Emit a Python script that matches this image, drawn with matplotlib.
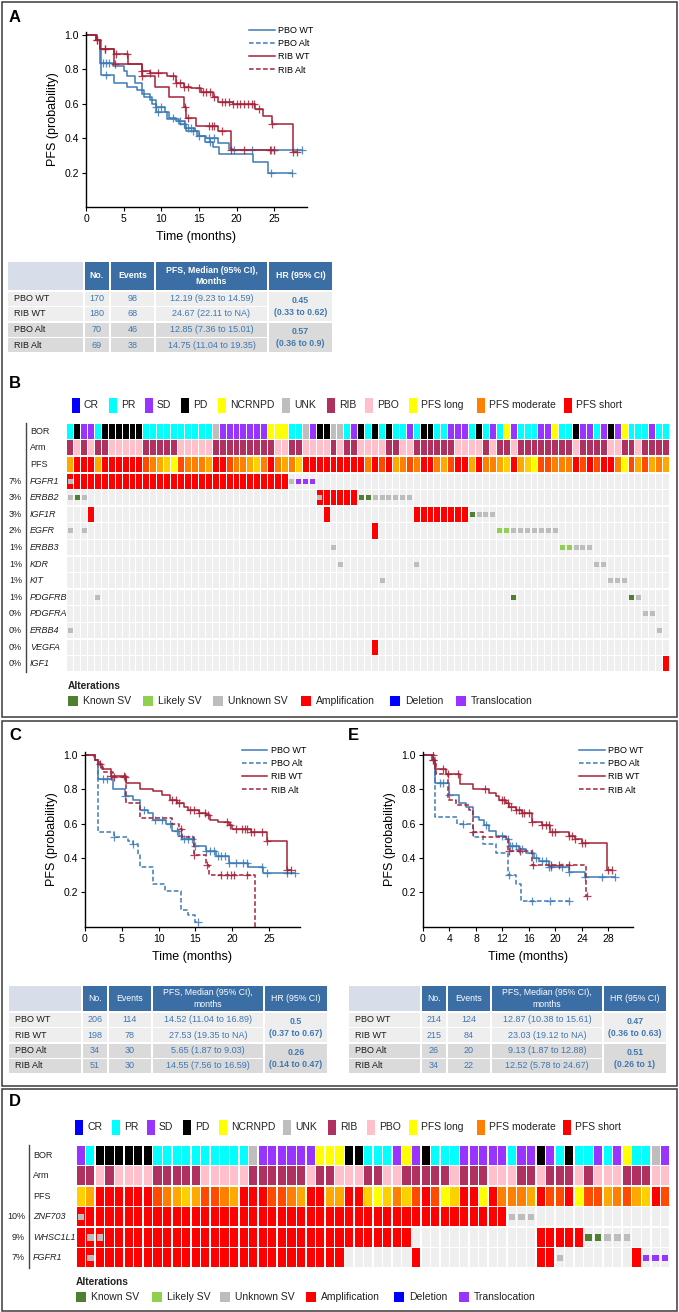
import numpy as np
import matplotlib.pyplot as plt
from matplotlib.patches import Rectangle
from matplotlib.lines import Line2D

plt.rcParams['font.family'] = ['Liberation Sans', 'DejaVu Sans']

W, H = 679, 1312
BLUE = '#3d7ab6'
RED = '#a52238'
VAL_BLUE = '#3f77b0'

# ---------------- Kaplan-Meier curves (step times, survival, censor times)
a_pbo_wt_t = [0, 1.5, 1.9, 3.6, 5.0, 5.5, 6.5, 7.5, 8.5, 9.3, 10.5, 11.0, 12.0, 13.2, 14.5, 15.0, 16.0, 17.5, 19.0, 19.5, 28.7]
a_pbo_wt_s = [1.0, 0.97, 0.84, 0.82, 0.79, 0.76, 0.72, 0.66, 0.62, 0.58, 0.55, 0.52, 0.50, 0.46, 0.44, 0.41, 0.40, 0.37, 0.34, 0.33, 0.33]
a_pbo_wt_c = [2.2, 2.6, 3.0, 9.3, 10.0, 11.5, 12.5, 13.5, 14.0, 15.0, 16.3, 17.0, 19.7, 22.1, 24.6, 25.0, 28.7]
a_pbo_alt_t = [0, 1.5, 2.0, 3.7, 5.5, 6.8, 7.7, 8.7, 9.3, 10.8, 12.3, 13.3, 14.7, 15.8, 16.8, 17.6, 22.2, 24.2, 27.3]
a_pbo_alt_s = [1.0, 0.97, 0.77, 0.72, 0.70, 0.68, 0.64, 0.60, 0.55, 0.51, 0.48, 0.44, 0.41, 0.38, 0.35, 0.31, 0.26, 0.20, 0.20]
a_pbo_alt_c = [2.6, 9.5, 13.0, 14.2, 16.5, 24.6, 27.3]
a_rib_wt_t = [0, 1.3, 1.9, 3.7, 5.6, 7.4, 8.5, 10.8, 12.0, 13.0, 14.0, 15.3, 16.8, 17.5, 19.5, 22.4, 23.5, 24.7, 27.5, 28.0]
a_rib_wt_s = [1.0, 0.97, 0.92, 0.89, 0.83, 0.79, 0.78, 0.76, 0.72, 0.70, 0.69, 0.67, 0.64, 0.61, 0.60, 0.57, 0.53, 0.48, 0.32, 0.32]
a_rib_wt_c = [1.5, 2.5, 4.0, 5.5, 7.5, 8.5, 9.5, 11.5, 12.0, 12.5, 13.0, 13.5, 15.0, 15.5, 16.0, 16.5, 17.0,
              18.0, 18.5, 19.0, 19.5, 20.0, 20.5, 21.0, 21.5, 22.0, 22.3, 23.0, 24.7, 27.5, 28.0]
a_rib_alt_t = [0, 1.3, 1.9, 3.7, 7.5, 9.2, 11.0, 13.0, 13.3, 14.6, 17.5, 19.3, 25.0]
a_rib_alt_s = [1.0, 0.97, 0.92, 0.83, 0.76, 0.70, 0.64, 0.58, 0.52, 0.47, 0.44, 0.33, 0.33]
a_rib_alt_c = [1.5, 2.5, 3.8, 7.5, 13.2, 13.5, 16.3, 16.7, 17.0, 18.0, 19.3, 21.0, 24.5, 25.0]

c_pbo_wt_t = [0, 1.3, 1.8, 3.8, 5.5, 6.5, 7.5, 8.5, 9.2, 11.0, 11.8, 12.8, 13.2, 14.8, 16.5, 17.8, 19.5, 22.1, 24.2, 28.5]
c_pbo_wt_s = [1.0, 0.97, 0.86, 0.80, 0.76, 0.74, 0.68, 0.66, 0.62, 0.60, 0.56, 0.53, 0.51, 0.47, 0.44, 0.41, 0.37, 0.35, 0.31, 0.31]
c_pbo_wt_c = [2.5, 3.0, 5.5, 8.0, 9.5, 10.5, 11.5, 12.5, 13.0, 13.5, 14.0, 14.5, 15.0, 16.5, 17.0, 17.5, 18.0,
              18.5, 19.0, 19.5, 20.5, 21.5, 22.0, 24.0, 24.7, 27.5, 28.5]
c_pbo_alt_t = [0, 1.2, 1.8, 4.0, 5.8, 6.5, 7.2, 7.5, 9.3, 10.8, 13.0, 14.0, 15.0, 15.3]
c_pbo_alt_s = [1.0, 0.97, 0.55, 0.52, 0.50, 0.48, 0.42, 0.35, 0.25, 0.21, 0.10, 0.07, 0.03, 0.03]
c_pbo_alt_c = [4.0, 6.5, 15.3]
c_rib_wt_t = [0, 1.3, 1.8, 2.3, 3.5, 5.6, 7.5, 9.2, 10.5, 11.5, 12.5, 13.5, 14.0, 15.5, 16.5, 17.0, 18.0, 19.5, 20.0, 22.5, 24.7, 27.5, 28.0]
c_rib_wt_s = [1.0, 0.97, 0.95, 0.92, 0.88, 0.835, 0.80, 0.79, 0.77, 0.74, 0.72, 0.70, 0.68, 0.66, 0.65, 0.62, 0.61, 0.59, 0.57, 0.55, 0.50, 0.33, 0.33]
c_rib_wt_c = [2.0, 3.5, 5.3, 11.8, 12.3, 12.8, 14.3, 14.8, 15.5, 16.3, 16.7, 19.3, 19.7, 20.5, 21.3, 21.7,
              22.0, 22.5, 23.0, 24.0, 24.7, 27.5, 28.0]
c_rib_alt_t = [0, 1.3, 2.0, 2.5, 3.8, 5.6, 7.5, 11.8, 12.8, 13.2, 14.8, 16.5, 16.8, 23.1, 23.15]
c_rib_alt_s = [1.0, 0.97, 0.93, 0.90, 0.87, 0.72, 0.635, 0.60, 0.57, 0.52, 0.42, 0.36, 0.30, 0.0, 0.0]
c_rib_alt_c = [4.0, 5.5, 13.0, 14.8, 16.6, 18.5, 19.3, 19.8, 20.3, 22.0]

e_pbo_wt_t = [0, 1.5, 1.8, 3.9, 5.5, 6.5, 7.5, 8.5, 9.2, 10.0, 11.0, 12.5, 13.0, 14.5, 15.5, 16.8, 17.5, 19.0, 22.0, 24.5, 29.0]
e_pbo_wt_s = [1.0, 0.97, 0.84, 0.77, 0.72, 0.70, 0.64, 0.62, 0.59, 0.56, 0.53, 0.51, 0.47, 0.45, 0.43, 0.40, 0.38, 0.35, 0.32, 0.29, 0.29]
e_pbo_wt_c = [1.5, 2.5, 3.0, 4.0, 9.5, 12.0, 12.8, 13.2, 13.5, 14.0, 14.5, 15.0, 16.5, 17.0, 18.0, 18.5,
              19.0, 19.3, 21.0, 22.0, 24.5, 27.0, 29.0]
e_pbo_alt_t = [0, 1.8, 5.2, 7.5, 9.0, 11.0, 12.8, 14.0, 14.8, 22.0]
e_pbo_alt_s = [1.0, 0.64, 0.60, 0.52, 0.48, 0.43, 0.30, 0.25, 0.15, 0.15]
e_pbo_alt_c = [6.0, 13.0, 16.5, 19.2, 22.0]
e_rib_wt_t = [0, 1.3, 1.8, 3.5, 5.6, 7.5, 10.0, 11.0, 11.5, 12.5, 13.0, 14.0, 15.0, 16.5, 18.0, 19.2, 22.0, 23.0, 24.0, 27.8, 28.5]
e_rib_wt_s = [1.0, 0.97, 0.92, 0.89, 0.83, 0.80, 0.78, 0.76, 0.74, 0.72, 0.70, 0.68, 0.66, 0.61, 0.59, 0.55, 0.53, 0.51, 0.49, 0.33, 0.33]
e_rib_wt_c = [1.5, 3.0, 5.3, 9.3, 12.0, 12.3, 12.8, 13.3, 14.0, 14.5, 15.0, 15.3, 16.0, 16.5, 18.0, 18.5,
              19.0, 19.5, 20.0, 22.0, 22.5, 23.0, 24.0, 24.5, 28.0, 28.5]
e_rib_alt_t = [0, 1.6, 2.0, 3.8, 5.0, 7.0, 7.5, 9.0, 12.8, 16.5, 24.6, 24.8]
e_rib_alt_s = [1.0, 0.96, 0.89, 0.74, 0.71, 0.68, 0.55, 0.52, 0.44, 0.36, 0.18, 0.18]
e_rib_alt_c = [1.5, 3.7, 7.6, 13.0, 14.6, 16.6, 19.3, 20.5, 22.0, 24.8]

# ---------------- tables
row_labels = ['PBO WT', 'RIB WT', 'PBO Alt', 'RIB Alt']
tab_a_no = [170, 180, 70, 69]
tab_a_events = [98, 68, 46, 38]
tab_a_median = ['12.19 (9.23 to 14.59)', '24.67 (22.11 to NA)', '12.85 (7.36 to 15.01)', '14.75 (11.04 to 19.35)']
tab_a_hr = ['0.45\n(0.33 to 0.62)', '0.57\n(0.36 to 0.9)']
tab_c_no = [206, 198, 34, 51]
tab_c_events = [114, 78, 30, 30]
tab_c_median = ['14.52 (11.04 to 16.89)', '27.53 (19.35 to NA)', '5.65 (1.87 to 9.03)', '14.55 (7.56 to 16.59)']
tab_c_hr = ['0.5\n(0.37 to 0.67)', '0.26\n(0.14 to 0.47)']
tab_e_no = [214, 215, 26, 34]
tab_e_events = [124, 84, 20, 22]
tab_e_median = ['12.87 (10.38 to 15.61)', '23.03 (19.12 to NA)', '9.13 (1.87 to 12.88)', '12.52 (5.78 to 24.67)']
tab_e_hr = ['0.47\n(0.36 to 0.63)', '0.51\n(0.26 to 1)']

# ---------------- oncoprint B (87 patients)
b_bor = ('PR PD SD SD PR PD PD PD PD PD PD PR PR PR PR PR PR PR PR PR PR UNK SD SD SD SD SD SD SD '
         'NCRNPD NCRNPD NCRNPD PR PR UNK SD PD PD UNK UNK PR SD PD PR PD PR PD PR PR SD PR PD PD PR PR '
         'SD SD SD PR PD PR SD PR NCRNPD SD PR PR PR SD SD NCRNPD PR PR PD SD SD PR SD PD SD NCRNPD '
         'PR PR PR SD PR PR').split()
b_arm = list('RPRPRR' 'PPPPP' 'RRRRR' 'PPPPP' 'RRRRRRRRR' 'PP' 'RR' 'PPPP' 'R' 'P' 'RR' 'P' 'PPP' 'RR' 'PP'
             'RRRRRR' 'PPPP' 'R' 'P' 'RR' 'P' 'RRRRRRRR' 'P' 'RRRR' 'PP' 'RR' 'P' 'RRRR')
b_pfs = ('30003000000' '1234512223' '0012234202' '32400000000' '0201032120' '0231003022'
         '3403451122' '2010100251' '31323')
b_genes = ['FGFR1', 'ERBB2', 'IGF1R', 'EGFR', 'ERBB3', 'KDR', 'KIT', 'PDGFRB', 'PDGFRA', 'ERBB4', 'VEGFA', 'IGF1']
b_pct = ['7%', '3%', '3%', '2%', '1%', '1%', '1%', '1%', '0%', '0%', '0%', '0%']
b_amp = {'FGFR1': list(range(0, 32)), 'ERBB2': list(range(36, 42)), 'IGF1R': [3, 37] + list(range(50, 58)),
         'EGFR': [44], 'VEGFA': [44], 'IGF1': [86]}
b_known = {'ERBB2': [1, 42, 43], 'IGF1R': [58], 'PDGFRB': [64, 81]}
b_likely = {'EGFR': [62, 63], 'ERBB3': [71, 72]}
b_unknown = {'FGFR1': [0, 32], 'ERBB2': [0, 2, 36, 44, 45, 46, 47, 48, 49], 'IGF1R': [59, 60, 61],
             'EGFR': [0, 2, 64, 65, 66, 67, 68, 69, 70], 'ERBB3': [38, 73, 74, 75], 'KDR': [39, 50, 76, 77],
             'KIT': [45, 78, 79, 80], 'PDGFRB': [4, 82], 'PDGFRA': [83, 84], 'ERBB4': [0, 85]}
b_trans = {'FGFR1': [33, 34, 35]}

# ---------------- oncoprint D (62 patients)
d_bor = ('SD PR PD PD PD PD PD PD PR PR PR PR PR PR PR PR PR PR UNK SD SD SD SD SD SD NCRNPD NCRNPD NCRNPD '
         'PD PD PR PR PR SD NCRNPD SD PD PR PR PR SD SD SD SD SD PR SD SD PD SD PR PD PR PR SD PR SD '
         'NCRNPD PR PR UNK SD').split()
d_arm = list('RRPRPPPP' 'RRRRR' 'PPPPP' 'RRRRRR' 'P' 'RR' 'PPP' 'RR' 'PP' 'RRRRR' 'P' 'RRR' 'PPP' 'RR' 'P'
             'RRR' 'P' 'R' 'PPP' 'RRR' 'PP')
d_pfs = '4300000012' '3431123000' '1123003300' '4542410154' '0050222301' '1051132134' '01'
d_genes = ['ZNF703', 'WHSC1L1', 'FGFR1']
d_pct = ['10%', '9%', '7%']
d_amp = {'ZNF703': list(range(0, 45)), 'WHSC1L1': list(range(0, 35)) + [48, 49, 50, 51, 52],
         'FGFR1': list(range(0, 28)) + [35, 48, 49, 58]}
d_known = {'WHSC1L1': [53, 54]}
d_likely = {}
d_unknown = {'ZNF703': [0, 45, 46, 47], 'WHSC1L1': [1, 2, 55, 56, 57], 'FGFR1': [1, 50]}
d_trans = {'FGFR1': [59, 60, 61]}

BOR_COLORS = {'CR': '#0000ff', 'PR': '#00ffff', 'SD': '#9933ff', 'PD': '#000000',
              'NCRNPD': '#ffff00', 'UNK': '#bebebe'}
ARM_COLORS = {'R': '#b03060', 'P': '#ffc0cb'}
PFS_COLORS = ['#ff0000', '#ff4a00', '#ff8000', '#ffa800', '#ffd000', '#ffff00']
ALT_COLORS = {'Known SV': '#4f7f2f', 'Likely SV': '#8fd14f', 'Unknown SV': '#bdbdbd',
              'Amplification': '#ff0000', 'Deletion': '#0000ff', 'Translocation': '#9933ff'}
TOP_LEGEND = [('CR', '#0000ff'), ('PR', '#00ffff'), ('SD', '#9933ff'), ('PD', '#000000'),
              ('NCRNPD', '#ffff00'), ('UNK', '#bebebe'), ('RIB', '#b03060'), ('PBO', '#ffc0cb'),
              ('PFS long', '#ffff00'), ('PFS moderate', '#ff8000'), ('PFS short', '#ff0000')]

fig = plt.figure(figsize=(W / 100, H / 100), dpi=100)
ax0 = fig.add_axes([0, 0, 1, 1])
ax0.set_xlim(0, W)
ax0.set_ylim(H, 0)
ax0.axis('off')


def px_axes(left, top, right, bottom):
    return fig.add_axes([left / W, 1 - bottom / H, (right - left) / W, (bottom - top) / H])


def km_panel(ax, curves, xmax, xticks, alt_dashed, leg_x):
    for t, s, cens, color, dashed in curves:
        ls = (0, (3, 1.6)) if (dashed and alt_dashed) else '-'
        ax.step(t, s, where='post', color=color, lw=1.1, ls=ls)
        t = np.asarray(t)
        s = np.asarray(s)
        cy = s[np.searchsorted(t, cens, side='right') - 1]
        ax.plot(cens, cy, ls='none', marker='+', ms=5.5, mew=0.9, color=color, alpha=0.85)
    ax.set_xlim(0, xmax)
    ax.set_ylim(0, 1.02)
    ax.set_xticks(xticks)
    ax.set_yticks([0.2, 0.4, 0.6, 0.8, 1.0])
    ax.set_yticklabels(['0.2', '0.4', '0.6', '0.8', '1.0'])
    ax.spines[['top', 'right']].set_visible(False)
    ax.spines[['left', 'bottom']].set_linewidth(1.0)
    ax.tick_params(labelsize=7.5, length=3, width=0.8, pad=2)
    ax.set_xlabel('Time (months)', fontsize=9, labelpad=5)
    ax.set_ylabel('PFS (probability)', fontsize=9, labelpad=4)
    handles = [Line2D([], [], color=BLUE, lw=1.1),
               Line2D([], [], color=BLUE, lw=1.1, ls=(0, (3, 1.6))),
               Line2D([], [], color=RED, lw=1.1),
               Line2D([], [], color=RED, lw=1.1, ls=(0, (3, 1.6)))]
    ax.legend(handles, ['PBO WT', 'PBO Alt', 'RIB WT', 'RIB Alt'], loc='upper right',
              bbox_to_anchor=(leg_x, 1.03), frameon=False, fontsize=6.5, handlelength=2.8,
              handletextpad=0.4, labelspacing=0.45, borderpad=0, borderaxespad=0)


def draw_table(x_edges, top, head_h, row_h, header, nos, events, medians, hrs, head_bold):
    sep = 1.5
    ncols = len(x_edges) - 1
    for i in range(ncols):
        x0, x1 = x_edges[i] + sep / 2, x_edges[i + 1] - sep / 2
        fc = '#d7dee9' if i == 0 else '#3b6ea5'
        ax0.add_patch(Rectangle((x0, top), x1 - x0, head_h, fc=fc, ec='none'))
        if i > 0:
            ax0.text((x0 + x1) / 2, top + head_h / 2, header[i - 1], color='white', fontsize=6.3,
                     ha='center', va='center', linespacing=1.3,
                     fontweight='bold' if head_bold else 'normal')
    y = top + head_h + sep / 2
    for r in range(len(row_labels)):
        fc = '#eeeeee' if r < 2 else '#dadada'
        y0 = y + r * row_h
        for i in range(ncols - 1):
            x0, x1 = x_edges[i] + sep / 2, x_edges[i + 1] - sep / 2
            ax0.add_patch(Rectangle((x0, y0 + sep / 2), x1 - x0, row_h - sep, fc=fc, ec='none'))
        yc = y0 + row_h / 2
        ax0.text(x_edges[0] + 7, yc, row_labels[r], fontsize=6.5, va='center', color='#1a1a1a')
        for i, val in zip((1, 2, 3), (nos[r], events[r], medians[r])):
            ax0.text((x_edges[i] + x_edges[i + 1]) / 2, yc, str(val), fontsize=6.5,
                     ha='center', va='center', color=VAL_BLUE)
    for k in range(2):
        y0 = y + 2 * k * row_h
        x0, x1 = x_edges[-2] + sep / 2, x_edges[-1] - sep / 2
        fc = '#eeeeee' if k == 0 else '#dadada'
        ax0.add_patch(Rectangle((x0, y0 + sep / 2), x1 - x0, 2 * row_h - sep, fc=fc, ec='none'))
        ax0.text((x0 + x1) / 2, y0 + row_h, hrs[k], fontsize=6.3, fontweight='bold', ha='center',
                 va='center', color=VAL_BLUE, linespacing=1.4)


def oncoprint(ax, bor, arm, pfs, genes, amp, small, sq_px, pitch_x, pitch_y, gap_x, gap_y):
    ncol = len(bor)
    nrow = 3 + len(genes)
    ax.set_xlim(-0.5, ncol - 0.5)
    ax.set_ylim(nrow - 0.5, -0.5)
    ax.axis('off')
    gx = gap_x / 2 / pitch_x
    gy = gap_y / 2 / pitch_y

    def cell(c, r, color):
        ax.add_patch(Rectangle((c - 0.5 + gx, r - 0.5 + gy), 1 - 2 * gx, 1 - 2 * gy, fc=color, ec='none'))

    for c in range(ncol):
        cell(c, 0, BOR_COLORS[bor[c]])
        cell(c, 1, ARM_COLORS[arm[c]])
        cell(c, 2, PFS_COLORS[int(pfs[c])])
        for g in range(len(genes)):
            cell(c, 3 + g, '#efefef')
    for g, gene in enumerate(genes):
        for c in amp.get(gene, []):
            cell(c, 3 + g, ALT_COLORS['Amplification'])
    sw = sq_px / pitch_x
    sh = sq_px / pitch_y
    for kind, table in small.items():
        for g, gene in enumerate(genes):
            for c in table.get(gene, []):
                ax.add_patch(Rectangle((c - sw / 2, 3 + g - sh / 2), sw, sh,
                                       fc=ALT_COLORS[kind], ec='none'))


def row_labels_left(top, pitch, genes, pct, lab_x, pct_x, line_x):
    names = ['BOR', 'Arm', 'PFS'] + genes
    for r, name in enumerate(names):
        yc = top + (r + 0.5) * pitch
        ax0.text(lab_x, yc, name, fontsize=6.5, va='center', ha='left',
                 style='italic' if r >= 3 else 'normal', color='#222')
        if r >= 3:
            ax0.text(pct_x, yc, pct[r - 3], fontsize=6.5, va='center', ha='right', color='#222')
    ax0.plot([line_x, line_x], [top, top + len(names) * pitch], color='#444', lw=1.0)


def top_legend(y, xs):
    for (name, color), x in zip(TOP_LEGEND, xs):
        ax0.add_patch(Rectangle((x, y - 7.5), 8, 15, fc=color, ec='none'))
        ax0.text(x + 12, y, name, fontsize=7.5, va='center', ha='left', color='#222')


def alt_legend(y_title, y, xs):
    ax0.text(xs[0], y_title, 'Alterations', fontsize=7.3, fontweight='bold', va='center', color='#222')
    for (name, color), x in zip(ALT_COLORS.items(), xs):
        ax0.add_patch(Rectangle((x, y - 5), 10, 10, fc=color, ec='none'))
        ax0.text(x + 15, y, name, fontsize=7.5, va='center', ha='left', color='#222')


# ---------------- frames and panel letters
for y0, y1 in [(1.5, 717), (720.5, 1086), (1089, 1310.5)]:
    ax0.add_patch(Rectangle((1.5, y0), 675.5, y1 - y0, fill=False, ec='#3a3a3a', lw=1.1))
for letter, x, y in [('A', 15, 17), ('B', 15, 383), ('C', 15, 736), ('E', 353, 736), ('D', 15, 1101)]:
    ax0.text(x, y, letter, fontsize=12, fontweight='bold', ha='center', va='center')

# ---------------- panel A
axA = px_axes(86, 31.6, 307, 207)
km_panel(axA, [(a_pbo_wt_t, a_pbo_wt_s, a_pbo_wt_c, BLUE, True),
               (a_pbo_alt_t, a_pbo_alt_s, a_pbo_alt_c, BLUE, True),
               (a_rib_wt_t, a_rib_wt_s, a_rib_wt_c, RED, False),
               (a_rib_alt_t, a_rib_alt_s, a_rib_alt_c, RED, False)],
         29.35, [0, 5, 10, 15, 20, 25], False, 1.03)
draw_table([7, 84, 110, 155, 268, 333], 262, 28, 15.5,
           ['No.', 'Events', 'PFS, Median (95% CI),\nMonths', 'HR (95% CI)'],
           tab_a_no, tab_a_events, tab_a_median, tab_a_hr, True)

# ---------------- panel C
axC = px_axes(85, 751.6, 300, 926.7)
km_panel(axC, [(c_pbo_wt_t, c_pbo_wt_s, c_pbo_wt_c, BLUE, False),
               (c_pbo_alt_t, c_pbo_alt_s, c_pbo_alt_c, BLUE, True),
               (c_rib_wt_t, c_rib_wt_s, c_rib_wt_c, RED, False),
               (c_rib_alt_t, c_rib_alt_s, c_rib_alt_c, RED, True)],
         29.2, [0, 5, 10, 15, 20, 25], True, 1.03)
draw_table([8, 82, 108, 152, 264, 328], 986, 25, 15.5,
           ['No.', 'Events', 'PFS, Median (95% CI),\nmonths', 'HR (95% CI)'],
           tab_c_no, tab_c_events, tab_c_median, tab_c_hr, False)

# ---------------- panel E
axE = px_axes(423, 751.6, 633, 926.7)
km_panel(axE, [(e_pbo_wt_t, e_pbo_wt_s, e_pbo_wt_c, BLUE, False),
               (e_pbo_alt_t, e_pbo_alt_s, e_pbo_alt_c, BLUE, True),
               (e_rib_wt_t, e_rib_wt_s, e_rib_wt_c, RED, False),
               (e_rib_alt_t, e_rib_alt_s, e_rib_alt_c, RED, True)],
         31.7, [0, 4, 8, 12, 16, 20, 24, 28], True, 1.05)
draw_table([348, 421, 447, 491, 603, 667], 986, 25, 15.5,
           ['No.', 'Events', 'PFS, Median (95% CI),\nmonths', 'HR (95% CI)'],
           tab_e_no, tab_e_events, tab_e_median, tab_e_hr, False)

# ---------------- panel B oncoprint
top_legend(405, [72, 109, 145, 181, 218, 282, 327, 365, 409, 477, 564])
axB = px_axes(66.7, 423, 669.6, 672)
oncoprint(axB, b_bor, b_arm, b_pfs, b_genes, b_amp,
          {'Unknown SV': b_unknown, 'Known SV': b_known, 'Likely SV': b_likely, 'Translocation': b_trans},
          5, 6.93, 16.6, 1.0, 1.4)
row_labels_left(423, 16.6, b_genes, b_pct, 30, 22, 25.5)
alt_legend(686, 701, [68, 143, 213, 301, 390, 456])

# ---------------- panel D oncoprint
top_legend(1127, [75, 112, 147, 183, 219, 283, 328, 367, 409, 477, 563])
axD = px_axes(76, 1145, 670, 1268)
oncoprint(axD, d_bor, d_arm, d_pfs, d_genes, d_amp,
          {'Unknown SV': d_unknown, 'Known SV': d_known, 'Likely SV': d_likely, 'Translocation': d_trans},
          6.5, 9.58, 20.5, 1.4, 1.4)
row_labels_left(1145, 20.5, d_genes, d_pct, 33, 25, 29.3)
alt_legend(1282, 1297, [76, 152, 220, 306, 394, 459])

fig.savefig('out.png', dpi=100)
